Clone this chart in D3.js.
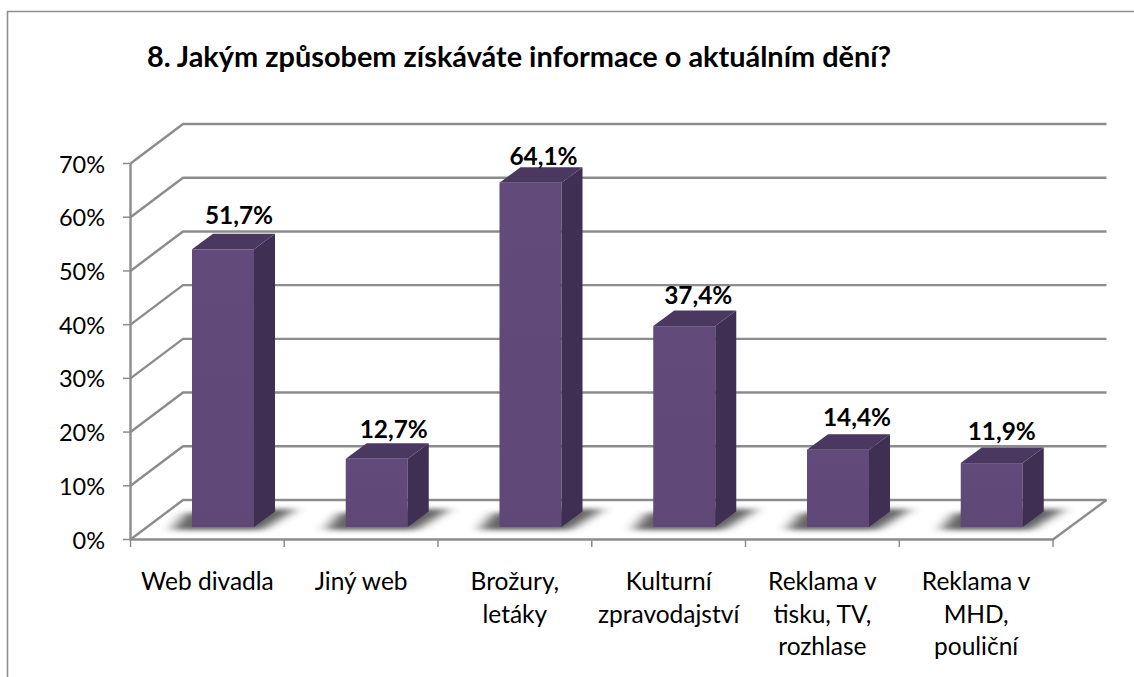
<!DOCTYPE html>
<html><head><meta charset="utf-8">
<script src="https://cdnjs.cloudflare.com/ajax/libs/d3/7.8.5/d3.min.js"></script>
<style>html,body{margin:0;padding:0;background:#fff}svg{display:block}text{font-family:Lato,"Open Sans",sans-serif;fill:#000}</style>
</head><body><svg id="c" width="1134" height="677"></svg>
<script>
const title = "8. Jakým způsobem získáváte informace o aktuálním dění?";
const categories = ["Web divadla","Jiný web","Brožury, letáky","Kulturní zpravodajství","Reklama v tisku, TV, rozhlase","Reklama v MHD, pouliční"];
const categoryLines = [["Web divadla"],["Jiný web"],["Brožury,","letáky"],["Kulturní","zpravodajství"],["Reklama v","tisku, TV,","rozhlase"],["Reklama v","MHD,","pouliční"]];
const values = [51.7,12.7,64.1,37.4,14.4,11.9];
const valueLabels = ["51,7%","12,7%","64,1%","37,4%","14,4%","11,9%"];
const ticks = [0,10,20,30,40,50,60,70];

const svg = d3.select("#c");
const y = d3.scaleLinear().domain([0,70]).range([539.5,163.5]);
const x = d3.scaleBand().domain(categories).range([130.5,1053]);
const depthX = 52.5, depthY = 39.5, barDX = 21, barDY = 15.5, gridC = "#8c8c8c";
const floorOff = 12.5, barW = 62, barOff = 61.5;
const labelNudge = [[1,1],[2,5],[-2,8],[-1,4],[4,2],[-5,3]];

const defs = svg.append("defs");
defs.append("filter").attr("id","blur").attr("x","-40%").attr("y","-100%").attr("width","180%").attr("height","300%")
  .append("feGaussianBlur").attr("stdDeviation","7 2.8");
const gradF = defs.append("linearGradient").attr("id","front").attr("x1",0).attr("x2",0).attr("y1",0).attr("y2",1);
gradF.append("stop").attr("offset",0).attr("stop-color","#624a7b");
gradF.append("stop").attr("offset",1).attr("stop-color","#5f4778");

svg.append("path").attr("d","M7.5 677V11.5H1134").attr("fill","none").attr("stroke","#8e8e8e").attr("stroke-width",1.6);

svg.append("text").attr("x",519).attr("y",67).attr("text-anchor","middle")
  .attr("font-size",28.9).attr("font-weight",700).text(title);

const grid = svg.append("g").attr("fill","none").attr("stroke",gridC).attr("stroke-width",2.4);
ticks.forEach(t=>{
  const endX = x.range()[1]+depthX+1;
  grid.append("path").attr("d",`M${x.range()[0]} ${y(t)}L${x.range()[0]+depthX} ${y(t)-depthY}H${endX}`);
});
grid.append("path").attr("d",`M${x.range()[0]} ${y(70)}V${y(0)}H${x.range()[1]}L${x.range()[1]+depthX+1} ${y(0)-depthY}`);
const tk = svg.append("g").attr("stroke",gridC).attr("stroke-width",1.5);
ticks.forEach(t=>tk.append("line").attr("x1",123).attr("x2",130.5).attr("y1",y(t)).attr("y2",y(t)));
[...categories.map(c=>x(c)),x.range()[1]].forEach(v=>tk.append("line").attr("x1",v).attr("x2",v).attr("y1",y(0)).attr("y2",547));

svg.append("g").selectAll("text").data(ticks).join("text")
  .attr("x",105).attr("y",d=>y(d)+9).attr("text-anchor","end").attr("font-size",23.5).text(d=>d+"%");

const sh = svg.append("g");
categories.forEach((c,i)=>{
  const l = x(c)+barOff, r = l+barW, b = y(0)-floorOff;
  sh.append("path").attr("filter","url(#blur)").attr("fill","#3a3a3a").attr("opacity",0.8)
    .attr("d",`M${l-20} ${b+3}H${r+8}L${r+42} ${b-18}H${r}L${l-6} ${b-14}Z`);
});

const bars = svg.append("g");
categories.forEach((c,i)=>{
  const l = x(c)+barOff, r = l+barW, b = y(0)-floorOff, t = b-(y(0)-y(values[i]));
  bars.append("rect").attr("x",l).attr("y",t).attr("width",barW).attr("height",b-t).attr("fill","url(#front)");
  bars.append("path").attr("fill","#3f2f52").attr("d",`M${r} ${t}L${r+barDX} ${t-barDY}V${b-barDY}L${r} ${b}Z`);
  bars.append("path").attr("fill","#4a3860").attr("d",`M${l} ${t}L${l+barDX} ${t-barDY}H${r+barDX}L${r} ${t}Z`);
});

svg.append("g").selectAll("text").data(values).join("text")
  .attr("x",(d,i)=>x(categories[i])+barOff+barW/2+15+labelNudge[i][0])
  .attr("y",(d,i)=>y(d)-floorOff-26+labelNudge[i][1])
  .attr("text-anchor","middle").attr("font-size",24.4).attr("font-weight",700)
  .text((d,i)=>valueLabels[i]);

const cl = svg.append("g");
categories.forEach((c,i)=>{
  categoryLines[i].forEach((s,j)=>{
    cl.append("text").attr("x",x(c)+x.bandwidth()/2).attr("y",590+j*32.5).attr("text-anchor","middle").attr("font-size",24.5).text(s);
  });
});
</script></body></html>
